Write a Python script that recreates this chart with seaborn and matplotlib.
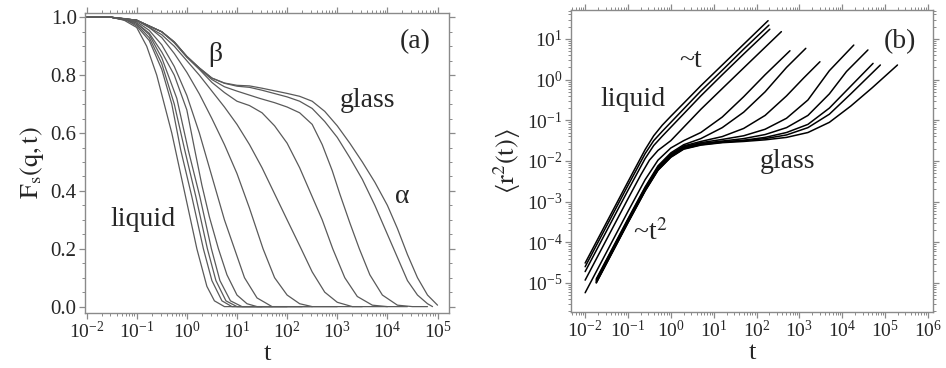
import numpy as np
import pandas as pd
import matplotlib
matplotlib.use("Agg")
import matplotlib.pyplot as plt
import seaborn as sns
from matplotlib.ticker import (LogLocator, MultipleLocator, FormatStrFormatter,
                               NullFormatter, FixedLocator, LogFormatterSciNotation)

# ---------------- data ----------------
# (a) self intermediate scattering function, one curve per temperature
# (log10 t, Fs) pairs, liquid (fast) -> glass (slow)
fs_logt = [
    [-2, -1.5, -1.25, -1, -0.8, -0.6, -0.45, -0.3, -0.05, 0.2, 0.4, 0.55, 0.75, 1.5],
    [-2, -1.5, -1.2, -1, -0.75, -0.5, -0.3, -0.12, 0.1, 0.33, 0.5, 0.7, 0.9, 1.7],
    [-2, -1.5, -1.2, -1, -0.75, -0.5, -0.25, -0.04, 0.18, 0.41, 0.58, 0.78, 1.0, 2.0],
    [-2, -1.5, -1.2, -1, -0.75, -0.5, -0.2, 0.03, 0.26, 0.49, 0.66, 0.87, 1.1, 2.3],
    [-2, -1.5, -1.2, -1, -0.75, -0.5, -0.25, 0, 0.16, 0.3, 0.45, 0.63, 0.8, 1.0, 1.2, 1.4, 2.5],
    [-2, -1.5, -1, -0.75, -0.5, -0.25, 0, 0.25, 0.5, 0.75, 0.95, 1.15, 1.4, 1.7, 3],
    [-2, -1.5, -1, -0.75, -0.5, -0.25, 0, 0.25, 0.5, 0.75, 1.0, 1.25, 1.52, 1.75, 2.0, 2.25, 2.5, 3.5],
    [-2, -1.5, -1, -0.5, -0.25, 0, 0.25, 0.5, 0.75, 1.0, 1.25, 1.5, 1.75, 2.0, 2.28, 2.5, 2.75, 3.0, 3.3, 4],
    [-2, -1.5, -1, -0.5, -0.25, 0, 0.25, 0.5, 0.75, 1.0, 1.25, 1.5, 1.75, 2.0, 2.25, 2.5, 2.7, 2.91, 3.15, 3.4, 3.7, 4.0, 4.4],
    [-2, -1.5, -1, -0.5, -0.25, 0, 0.25, 0.5, 0.75, 1.0, 1.45, 1.75, 2.0, 2.25, 2.5, 2.7, 2.9, 3.05, 3.25, 3.44, 3.65, 3.9, 4.2, 4.5, 4.8],
    [-2, -1.5, -1, -0.5, -0.25, 0, 0.25, 0.5, 0.75, 1.0, 1.25, 1.5, 2.0, 2.25, 2.5, 2.75, 3.0, 3.25, 3.5, 3.75, 4.0, 4.2, 4.4, 4.6, 4.8, 4.9],
    [-2, -1.5, -1, -0.5, -0.25, 0, 0.25, 0.5, 0.75, 1.0, 1.25, 1.5, 2.0, 2.25, 2.5, 2.75, 3.0, 3.25, 3.5, 3.75, 4.0, 4.2, 4.4, 4.6, 4.8, 5.0],
]
fs_vals = [
    [1.0, 1.0, 0.99, 0.965, 0.9, 0.8, 0.7, 0.6, 0.4, 0.2, 0.07, 0.02, 0.0, 0.0],
    [1.0, 1.0, 0.99, 0.97, 0.92, 0.82, 0.7, 0.54, 0.38, 0.2, 0.09, 0.02, 0.0, 0.0],
    [1.0, 1.0, 0.99, 0.975, 0.93, 0.84, 0.7, 0.54, 0.38, 0.2, 0.09, 0.02, 0.0, 0.0],
    [1.0, 1.0, 0.99, 0.98, 0.94, 0.86, 0.72, 0.54, 0.38, 0.2, 0.09, 0.02, 0.0, 0.0],
    [1.0, 1.0, 0.995, 0.98, 0.945, 0.88, 0.8, 0.68, 0.54, 0.42, 0.31, 0.2, 0.11, 0.04, 0.01, 0.0, 0.0],
    [1.0, 1.0, 0.985, 0.955, 0.905, 0.83, 0.73, 0.6, 0.45, 0.3, 0.2, 0.1, 0.03, 0.0, 0.0],
    [1.0, 1.0, 0.99, 0.965, 0.93, 0.875, 0.81, 0.735, 0.65, 0.56, 0.46, 0.34, 0.2, 0.1, 0.04, 0.01, 0.0, 0.0],
    [1.0, 1.0, 0.99, 0.94, 0.9, 0.85, 0.8, 0.745, 0.69, 0.63, 0.56, 0.48, 0.39, 0.3, 0.2, 0.12, 0.05, 0.015, 0.0, 0.0],
    [1.0, 1.0, 0.99, 0.95, 0.912, 0.862, 0.82, 0.775, 0.74, 0.71, 0.695, 0.67, 0.625, 0.565, 0.48, 0.38, 0.3, 0.2, 0.1, 0.035, 0.005, 0.0, 0.0],
    [1.0, 1.0, 0.99, 0.95, 0.914, 0.864, 0.823, 0.785, 0.76, 0.745, 0.72, 0.705, 0.69, 0.67, 0.63, 0.56, 0.47, 0.39, 0.29, 0.2, 0.11, 0.04, 0.005, 0.0, 0.0],
    [1.0, 1.0, 0.99, 0.95, 0.915, 0.865, 0.825, 0.79, 0.772, 0.762, 0.758, 0.748, 0.725, 0.71, 0.685, 0.64, 0.585, 0.515, 0.44, 0.35, 0.25, 0.17, 0.09, 0.04, 0.01, 0.0],
    [1.0, 1.0, 0.99, 0.95, 0.915, 0.865, 0.825, 0.79, 0.773, 0.765, 0.763, 0.755, 0.737, 0.727, 0.71, 0.675, 0.625, 0.565, 0.5, 0.43, 0.35, 0.27, 0.18, 0.1, 0.04, 0.005],
]

# (b) mean squared displacement, (log10 t, log10 <r^2>) pairs, same temperatures
msd_logt = [
    [-2, -1.5, -1, -0.6, -0.4, -0.2, 0, 0.3, 0.7, 1.2, 1.7, 2.27],
    [-2, -1.5, -1, -0.6, -0.4, -0.2, 0, 0.3, 0.7, 1.2, 1.7, 2.29],
    [-2, -1.5, -1, -0.6, -0.4, -0.2, 0, 0.3, 0.7, 1.2, 1.7, 2.31],
    [-2, -1.5, -1, -0.7, -0.5, -0.3, 0, 0.3, 0.7, 1.2, 1.8, 2.58],
    [-2, -1.5, -1, -0.6, -0.3, 0, 0.3, 0.7, 1.2, 1.7, 2.2, 2.78],
    [-1.74, -1.5, -1, -0.6, -0.3, 0, 0.3, 0.7, 1.2, 1.7, 2.2, 2.7, 3.15],
    [-1.74, -1.5, -1, -0.6, -0.3, 0, 0.3, 0.7, 1.2, 1.7, 2.2, 2.7, 3.1, 3.48],
    [-1.74, -1.5, -1, -0.6, -0.3, 0, 0.3, 0.7, 1.2, 1.7, 2.2, 2.7, 3.2, 3.7, 4.27],
    [-1.74, -1.5, -1, -0.6, -0.3, 0, 0.3, 0.7, 1.2, 1.7, 2.2, 2.7, 3.2, 3.7, 4.1, 4.6],
    [-1.74, -1.5, -1, -0.6, -0.3, 0, 0.3, 0.7, 1.2, 1.7, 2.2, 2.7, 3.2, 3.7, 4.2, 4.72],
    [-1.74, -1.5, -1, -0.6, -0.3, 0, 0.3, 0.7, 1.2, 1.7, 2.2, 2.7, 3.2, 3.7, 4.2, 4.89],
    [-1.74, -1.5, -1, -0.6, -0.3, 0, 0.3, 0.7, 1.2, 1.7, 2.2, 2.7, 3.2, 3.7, 4.2, 4.7, 5.29],
]
msd_vals = [
    [-4.51, -3.51, -2.51, -1.72, -1.38, -1.12, -0.9, -0.58, -0.15, 0.36, 0.87, 1.45],
    [-4.6, -3.6, -2.6, -1.82, -1.5, -1.27, -1.05, -0.72, -0.28, 0.23, 0.75, 1.34],
    [-4.72, -3.72, -2.72, -1.94, -1.62, -1.39, -1.17, -0.84, -0.4, 0.12, 0.63, 1.24],
    [-4.93, -3.93, -2.93, -2.34, -1.98, -1.74, -1.5, -1.17, -0.73, -0.22, 0.39, 1.18],
    [-5.24, -4.24, -3.24, -2.46, -1.98, -1.68, -1.5, -1.3, -0.92, -0.42, 0.12, 0.71],
    [-4.9, -4.42, -3.42, -2.64, -2.12, -1.8, -1.6, -1.45, -1.18, -0.8, -0.3, 0.3, 0.77],
    [-4.92, -4.44, -3.44, -2.66, -2.15, -1.83, -1.63, -1.52, -1.4, -1.2, -0.88, -0.4, 0.04, 0.44],
    [-4.94, -4.46, -3.46, -2.68, -2.17, -1.85, -1.65, -1.55, -1.47, -1.38, -1.22, -0.95, -0.5, 0.22, 0.85],
    [-4.96, -4.48, -3.48, -2.7, -2.19, -1.87, -1.67, -1.57, -1.51, -1.45, -1.35, -1.18, -0.88, -0.35, 0.2, 0.73],
    [-4.98, -4.5, -3.5, -2.72, -2.21, -1.89, -1.69, -1.59, -1.53, -1.49, -1.42, -1.3, -1.1, -0.7, -0.16, 0.4],
    [-4.99, -4.51, -3.51, -2.73, -2.22, -1.9, -1.7, -1.6, -1.54, -1.5, -1.45, -1.36, -1.18, -0.85, -0.35, 0.36],
    [-5.0, -4.52, -3.52, -2.74, -2.23, -1.91, -1.71, -1.61, -1.55, -1.52, -1.48, -1.42, -1.3, -1.05, -0.65, -0.2, 0.36],
]

# decade exponents carrying tick labels
xdec_a = list(range(-2, 6))
xdec_b = list(range(-2, 7))
ydec_b = list(range(-5, 2))
yticks_a = [0.0, 0.2, 0.4, 0.6, 0.8, 1.0]


def long_frame(logt_lists, val_lists, log_vals):
    rows = []
    for k, (lt, vals) in enumerate(zip(logt_lists, val_lists)):
        for a, b in zip(lt, vals):
            rows.append({"curve": k, "t": 10.0 ** a, "y": 10.0 ** b if log_vals else b})
    return pd.DataFrame(rows)


df_fs = long_frame(fs_logt, fs_vals, False)
df_msd = long_frame(msd_logt, msd_vals, True)

# ---------------- style ----------------
sns.set_style("ticks")
plt.rcParams["font.family"] = ["Liberation Serif", "DejaVu Serif"]
plt.rcParams["mathtext.fontset"] = "stix"

frame_col = "#8a8a8a"
fig = plt.figure(figsize=(9.46, 3.68), dpi=100)
ax1 = fig.add_axes([0.0899, 0.1495, 0.3848, 0.8152])
ax2 = fig.add_axes([0.6036, 0.1522, 0.3827, 0.8207])

sns.lineplot(data=df_fs, x="t", y="y", units="curve", estimator=None, sort=False,
             color="#5a5a5a", lw=0.9, ax=ax1)
sns.lineplot(data=df_msd, x="t", y="y", units="curve", estimator=None, sort=False,
             color="black", lw=1.1, ax=ax2)

for ax, xdec in ((ax1, xdec_a), (ax2, xdec_b)):
    ax.set_xscale("log")
    for s in ax.spines.values():
        s.set_color(frame_col)
        s.set_linewidth(1.0)
    ax.tick_params(which="both", direction="out", top=True, right=True,
                   color=frame_col, labelsize=14, pad=2)
    ax.tick_params(which="major", length=4.0, width=0.9)
    ax.tick_params(which="minor", length=2.3, width=0.7)
    ax.xaxis.set_major_locator(FixedLocator([10.0 ** k for k in xdec]))
    ax.xaxis.set_major_formatter(LogFormatterSciNotation())
    ax.xaxis.set_minor_locator(LogLocator(base=10, subs=np.arange(2, 10), numticks=300))
    ax.xaxis.set_minor_formatter(NullFormatter())
    ax.set_xlabel("t", fontsize=19, labelpad=0)

# panel (a)
ax1.set_xlim(10 ** -2.03, 10 ** 5.23)
ax1.set_ylim(-0.022, 1.015)
ax1.yaxis.set_major_locator(FixedLocator(yticks_a))
ax1.yaxis.set_minor_locator(MultipleLocator(0.05))
ax1.yaxis.set_major_formatter(FormatStrFormatter("%.1f"))
ax1.tick_params(axis="y", labelsize=15)
ax1.set_ylabel(r"$\mathrm{F_s(q,t)}$", fontsize=19, labelpad=3)

txt = dict(fontsize=20, ha="center", va="center")
ax1.text(0.357, 0.863, "β", transform=ax1.transAxes, **txt)
ax1.text(0.907, 0.903, "(a)", transform=ax1.transAxes, **txt)
ax1.text(0.775, 0.707, "glass", transform=ax1.transAxes, **txt)
ax1.text(0.871, 0.387, "α", transform=ax1.transAxes, **txt)
ax1.text(0.159, 0.313, "liquid", transform=ax1.transAxes, **txt)

# panel (b)
ax2.set_yscale("log")
ax2.set_xlim(10 ** -2.33, 10 ** 6.12)
ax2.set_ylim(10 ** -5.713, 10 ** 1.713)
ax2.yaxis.set_major_locator(FixedLocator([10.0 ** k for k in ydec_b]))
ax2.yaxis.set_major_formatter(LogFormatterSciNotation())
ax2.yaxis.set_minor_locator(LogLocator(base=10, subs=np.arange(2, 10), numticks=300))
ax2.yaxis.set_minor_formatter(NullFormatter())
ax2.set_ylabel(r"$\langle\mathrm{r^2(t)}\rangle$", fontsize=19, labelpad=3)

ax2.text(0.909, 0.894, "(b)", transform=ax2.transAxes, **txt)
ax2.text(0.329, 0.834, "~t", transform=ax2.transAxes, **txt)
ax2.text(0.171, 0.702, "liquid", transform=ax2.transAxes, **txt)
ax2.text(0.597, 0.497, "glass", transform=ax2.transAxes, **txt)
ax2.text(0.218, 0.262, r"~t$^2$", transform=ax2.transAxes, **txt)

fig.savefig("out.png", dpi=100)
